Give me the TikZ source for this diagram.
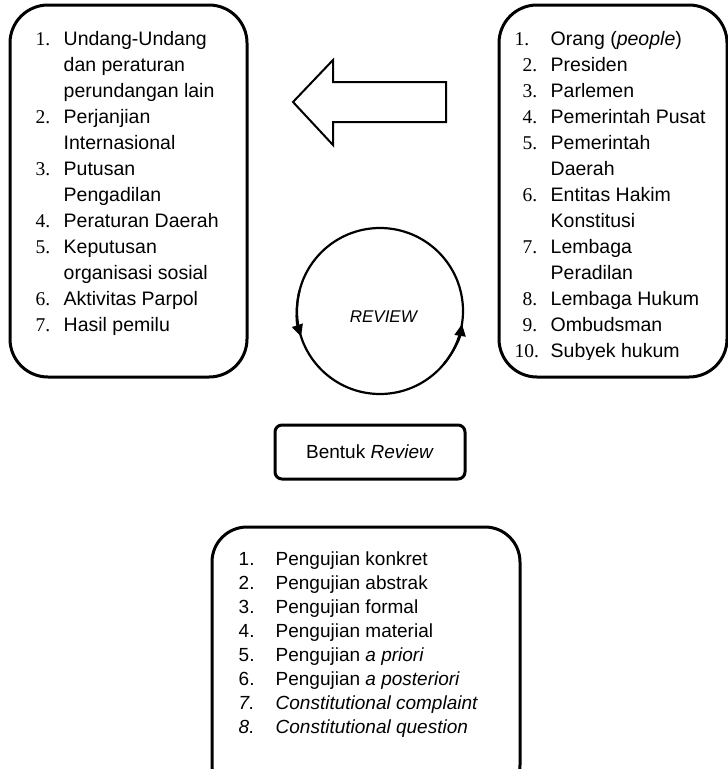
\documentclass[tikz,border=0pt]{standalone}
\usepackage{fontspec}
\setmainfont{Liberation Sans}
\newfontfamily\numfont{Liberation Serif}
\usetikzlibrary{positioning,arrows.meta}

\tikzset{
	reviewpicture/.style = {
		x = 1pt,
		y = -1pt,
		cyclearrow/.style = {
			draw,
			line width = 2.2pt,
			-{Triangle[length=12pt, width=11pt]}
		}
	},
	listbox/.style = {
		draw = black,
		line width = 3pt,
		rounded corners = 38pt,
		inner sep = 0pt
	},
	listtext/.style = {
		anchor = base west,
		inner sep = 0pt,
		font = \fontsize{19.5}{26}\selectfont
	},
	formbox/.style = {
		draw = black,
		line width = 3pt,
		rounded corners = 7pt,
		minimum width = 190pt,
		minimum height = 54pt,
		font = \fontsize{19}{24}\selectfont
	},
	cyclenode/.style = {
		circle,
		draw = black,
		line width = 2.2pt,
		minimum size = 166pt,
		inner sep = 0pt,
		outer sep = 0pt
	},
	blockarrow/.style = {
		draw = black,
		line width = 2pt,
		line join = miter
	}
}

\begin{document}
\begin{tikzpicture}[reviewpicture]
	\useasboundingbox (0,0) rectangle (728,769);

	\node[listbox, minimum width = 237pt, minimum height = 372pt] (laws) at (128.5,191) {};
	\node[listbox, minimum width = 228pt, minimum height = 372pt] (subjects) at (613,191) {};

	\node[listtext] (lawlist) at ([shift={(27,42)}]laws.north west) {%
		\begin{tabular}[t]{@{}p{28pt}@{}l@{}}
			{\numfont 1.} & Undang-Undang\\
			 & dan peraturan\\
			 & perundangan lain\\
			{\numfont 2.} & Perjanjian\\
			 & Internasional\\
			{\numfont 3.} & Putusan\\
			 & Pengadilan\\
			{\numfont 4.} & Peraturan Daerah\\
			{\numfont 5.} & Keputusan\\
			 & organisasi sosial\\
			{\numfont 6.} & Aktivitas Parpol\\
			{\numfont 7.} & Hasil pemilu
		\end{tabular}};

	\begin{scope}
		\clip (499,0) rectangle (727,359);
		\node[listtext] (subjectlist) at ([shift={(17,42)}]subjects.north west) {%
			\begin{tabular}[t]{@{}p{36pt}@{}l@{}}
				{\numfont 1.} & Orang (\textit{people})\\
				\hspace*{8pt}{\numfont 2.} & Presiden\\
				\hspace*{8pt}{\numfont 3.} & Parlemen\\
				\hspace*{8pt}{\numfont 4.} & Pemerintah Pusat\\
				\hspace*{8pt}{\numfont 5.} & Pemerintah\\
				 & Daerah\\
				\hspace*{8pt}{\numfont 6.} & Entitas Hakim\\
				 & Konstitusi\\
				\hspace*{8pt}{\numfont 7.} & Lembaga\\
				 & Peradilan\\
				\hspace*{8pt}{\numfont 8.} & Lembaga Hukum\\
				\hspace*{8pt}{\numfont 9.} & Ombudsman\\
				{\numfont 10.} & Subyek hukum
			\end{tabular}};
	\end{scope}

	% arrow from the subjects to the laws
	\draw[blockarrow] (446,82) -- (333,82) -- (333,60) -- (293,102) -- (333,145) -- (333,122) -- (446,122) -- cycle;

	\node[cyclenode] (review) at (380,311) {};
	\node[font = \fontsize{17}{20}\selectfont] (reviewtext) at (384,317) {\textit{REVIEW}};
	\path[cyclearrow] (review.166) arc[start angle = 166, end angle = 198, radius = 83pt];
	\path[cyclearrow] (review.-40) arc[start angle = -40, end angle = -9, radius = 83pt];

	\node[formbox] (forms) at (370,452) {Bentuk \textit{Review}};

	\begin{scope}
		\clip (0,0) rectangle (728,769);
		\node[listbox, rounded corners = 35pt, minimum width = 308pt, minimum height = 273pt] (tests) at (366,663.5) {};
	\end{scope}
	\node[listtext, font = \fontsize{19}{24}\selectfont] (testlist) at ([shift={(28,40)}]tests.north west) {%
		\begin{tabular}[t]{@{}p{37pt}@{}l@{}}
			1. & Pengujian konkret\\
			2. & Pengujian abstrak\\
			3. & Pengujian formal\\
			4. & Pengujian material\\
			5. & Pengujian \textit{a priori}\\
			6. & Pengujian \textit{a posteriori}\\
			\textit{7.} & \textit{Constitutional complaint}\\
			\textit{8.} & \textit{Constitutional question}
		\end{tabular}};
\end{tikzpicture}
\end{document}
